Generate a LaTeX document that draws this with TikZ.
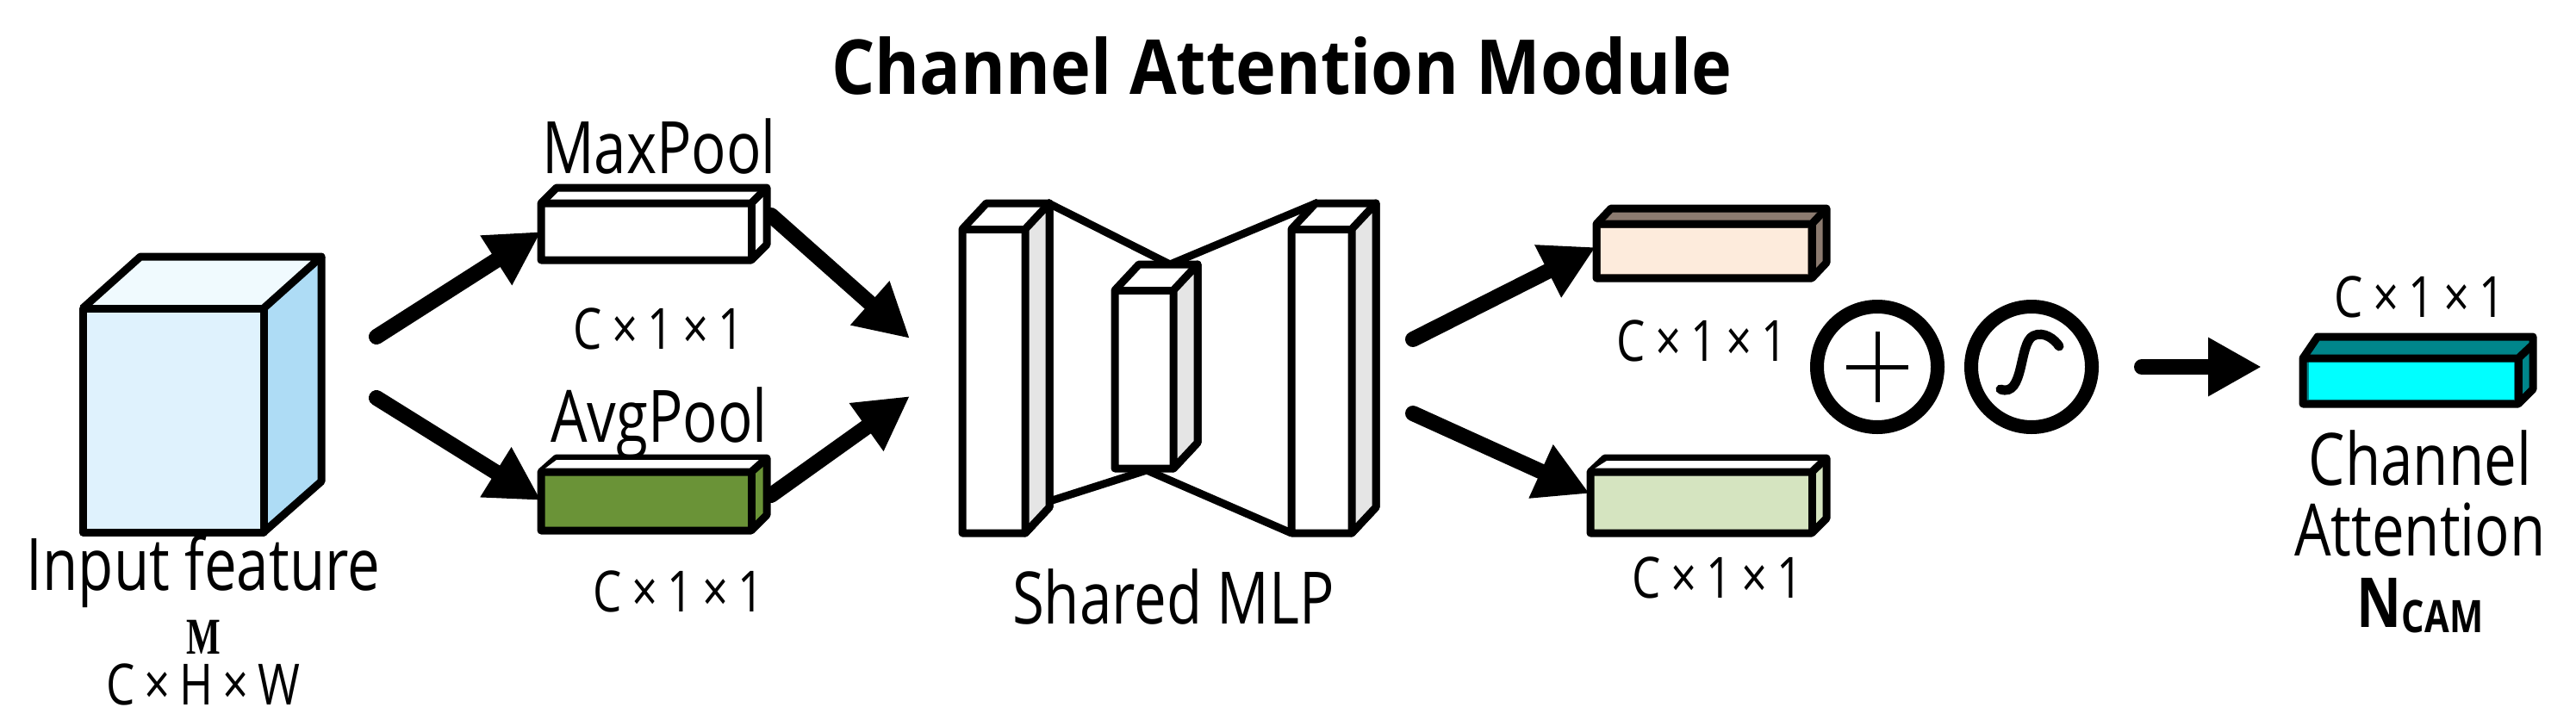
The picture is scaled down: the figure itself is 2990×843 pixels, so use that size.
\documentclass[tikz,border=0pt]{standalone}
\usepackage{fontspec}
\setmainfont{Open Sans}[FakeStretch=0.8]
\newfontfamily\titlefont{Open Sans}[FakeStretch=0.9]
\newfontfamily\mfont{Liberation Serif}[FakeStretch=0.7]
\usetikzlibrary{arrows.meta}
\definecolor{frontblue}{HTML}{DFF2FD}
\definecolor{sideblue}{HTML}{AEDCF5}
\definecolor{topblue}{HTML}{F0FAFE}
\definecolor{avggreen}{HTML}{6A9337}
\definecolor{peach}{HTML}{FDEBDC}
\definecolor{peachtop}{HTML}{8C7B70}
\definecolor{palegreen}{HTML}{D5E4C0}
\definecolor{tealtop}{HTML}{00868B}
\definecolor{cyanfill}{HTML}{00FFFF}
\tikzset{
  big/.style={line width=18pt, line cap=round, -{Triangle[length=62pt,width=64pt]}},
  edge/.style={line width=9pt, line join=round, draw=black},
  lbl/.style={inner sep=0pt, font=\fontsize{66}{66}\selectfont},
  lblbig/.style={inner sep=0pt, font=\fontsize{84}{84}\selectfont},
}
\newcommand{\cxx}{C\,×\,1\,×\,1}
\begin{document}
\begin{tikzpicture}[x=1pt,y=-1pt]
\useasboundingbox (0,0) rectangle (2990,843);
% title
\node[inner sep=0pt, font=\fontsize{88}{88}\selectfont\titlefont\bfseries] (title) at (1488,77) {Channel Attention Module};

% input cube
\fill[topblue] (96,358) -- (163,298) -- (373,298) -- (306,358) -- cycle;
\fill[sideblue] (306,358) -- (373,298) -- (373,559) -- (306,618) -- cycle;
\draw[edge, fill=frontblue] (96,358) rectangle (306,618);
\draw[edge] (96,358) -- (163,298) -- (373,298) -- (306,358);
\draw[edge] (373,298) -- (373,559) -- (306,618);
\coordinate (in1) at (437,391);
\coordinate (in2) at (437,462);
\node[lblbig] (inlbl) at (236,663) {Input feature};
\node[inner sep=0pt, font=\fontsize{60}{60}\selectfont\mfont\bfseries] (M) at (236,740) {M};
\node[lbl] (chw) at (236,795) {C\,×\,H\,×\,W};

% MaxPool box
\draw[edge, fill=white] (628,236) -- (646,218) -- (890,218) -- (890,284) -- (872,302) -- (628,302) -- cycle;
\draw[edge] (628,236) -- (872,236) -- (890,218);
\draw[edge] (872,236) -- (872,302);
\node[lblbig] (maxlbl) at (765,170) {MaxPool};
\node[lbl] (c1) at (765,382) {\cxx};
\coordinate (max) at (628,269);
\coordinate (maxo) at (895,250);
% AvgPool box
\draw[edge, fill=avggreen] (628,548) -- (628,616) -- (872,616) -- (890,598) -- (890,532) -- (646,532) -- cycle;
\fill[white] (646,534) -- (888,534) -- (872,546) -- (630,546) -- cycle;
\draw[edge] (628,548) -- (872,548) -- (890,532);
\draw[edge] (872,548) -- (872,616);
\node[lblbig] (avglbl) at (765,492) {AvgPool};
\node[lbl] (c2) at (788,687) {\cxx};
\coordinate (avg) at (628,581);
\coordinate (avgo) at (895,575);

\draw[big] (in1) -- (max);
\draw[big] (in2) -- (avg);
\coordinate (mlpa) at (1056,393);
\coordinate (mlpb) at (1056,460);
\draw[big] (maxo) -- (mlpa);
\draw[big] (avgo) -- (mlpb);

% Shared MLP
\draw[edge] (1215,235) -- (1358,307) -- (1530,235);
\draw[edge] (1215,583) -- (1331,546) -- (1499,619);
\foreach \x/\ya/\yb/\w in {1117/266/619/73, 1499/266/619/70, 1294/337/544/68}{
  \draw[edge, fill=white] (\x,\ya) -- (\x+28,\ya-30) -- (\x+\w+28,\ya-30) -- (\x+\w+28,\yb-30) -- (\x+\w,\yb) -- (\x,\yb) -- cycle;
  \draw[edge, fill=black!10] (\x+\w,\ya) -- (\x+\w+28,\ya-30) -- (\x+\w+28,\yb-30) -- (\x+\w,\yb) -- cycle;
  \draw[edge] (\x,\ya) -- (\x+\w,\ya);
}
\node[lblbig] (mlplbl) at (1362,693) {Shared MLP};

% outputs
\coordinate (o1s) at (1640,394);
\coordinate (o2s) at (1640,480);
\coordinate (o1) at (1852,287);
\coordinate (o2) at (1845,573);
\draw[big] (o1s) -- (o1);
\draw[big] (o2s) -- (o2);
\draw[edge, fill=peachtop] (1853,260) -- (1870,242) -- (2120,242) -- (2120,305) -- (2103,323) -- (1853,323) -- cycle;
\fill[peach] (1858,265) rectangle (2098,318);
\draw[edge] (1853,260) -- (2103,260) -- (2120,242);
\draw[edge] (2103,260) -- (2103,323);
\node[lbl] (c3) at (1976,396) {\cxx};
\draw[edge, fill=palegreen] (1846,548) -- (1863,532) -- (2120,532) -- (2120,602) -- (2103,619) -- (1846,619) -- cycle;
\fill[white] (1865,535) -- (2115,535) -- (2103,544) -- (1851,544) -- cycle;
\draw[edge] (1846,548) -- (2103,548) -- (2120,532);
\draw[edge] (2103,548) -- (2103,619);
\node[lbl] (c4) at (1994,671) {\cxx};

% plus and sigmoid
\node[draw, circle, line width=16pt, minimum size=140pt, inner sep=0pt] (plus) at (2179,426) {};
\draw[line width=5pt] (2179,385) -- (2179,467) (2143,426) -- (2215,426);
\node[draw, circle, line width=16pt, minimum size=140pt, inner sep=0pt] (sig) at (2358,426) {};
\draw[line width=11pt, line cap=round] (2322,452) .. controls (2350,462) and (2343,398) .. (2360,390) .. controls (2372,384) and (2385,394) .. (2390,402);
\coordinate (arrs) at (2486,426);
\coordinate (arre) at (2625,426);
\draw[big] (arrs) -- (arre);

% result box
\draw[edge, fill=tealtop] (2673,416) -- (2690,391) -- (2940,391) -- (2940,452) -- (2923,469) -- (2673,469) -- cycle;
\fill[cyanfill] (2680,420) rectangle (2918,464);
\draw[edge] (2673,416) -- (2923,416) -- (2940,400);
\draw[edge] (2923,416) -- (2923,469);
\node[lbl] (c5) at (2809,345) {\cxx};
\node[lblbig] (ch) at (2809,532) {Channel};
\node[lblbig] (att) at (2809,615) {Attention};
\node[inner sep=0pt, font=\fontsize{80}{80}\selectfont\bfseries] (ncam) at (2809,703) {N\raisebox{-6pt}{\fontsize{52}{52}\selectfont CAM}};
\end{tikzpicture}
\end{document}
